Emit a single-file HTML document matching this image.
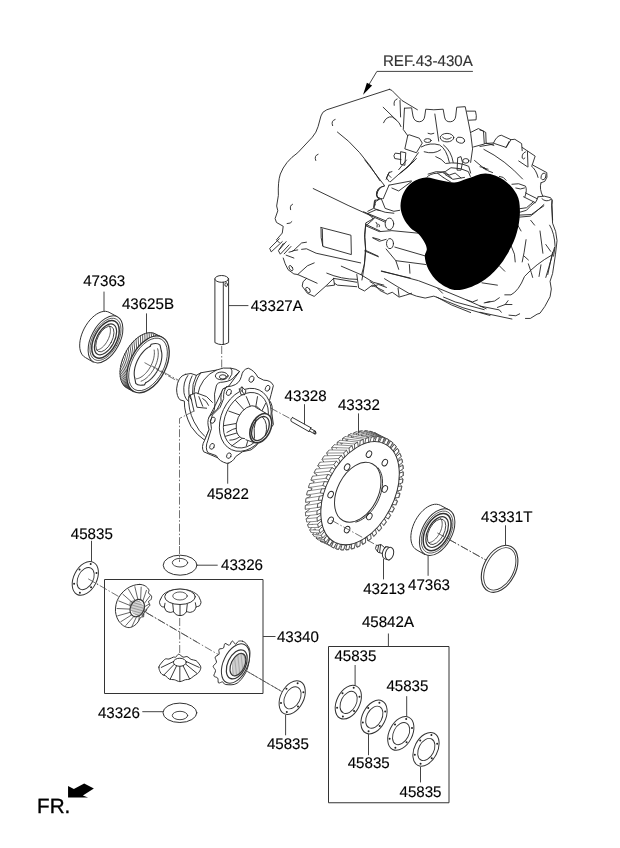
<!DOCTYPE html>
<html>
<head>
<meta charset="utf-8">
<title>Differential parts diagram</title>
<style>
html,body{margin:0;padding:0;background:#fff;}
body{width:620px;height:848px;overflow:hidden;font-family:"Liberation Sans",sans-serif;}
svg{display:block;will-change:transform;}
text{font-family:"Liberation Sans",sans-serif;fill:#000;stroke:#000;stroke-width:0.15px;text-rendering:geometricPrecision;}
.l{font-size:15px;}
.s{fill:none;stroke:#333;stroke-width:1;stroke-linecap:round;stroke-linejoin:round;}
.t{fill:none;stroke:#222;stroke-width:0.9;stroke-linecap:round;stroke-linejoin:round;}
.w{fill:#fff;stroke:#333;stroke-width:1;stroke-linejoin:round;}
.d{fill:none;stroke:#444;stroke-width:0.75;stroke-dasharray:8 2 1.5 2;stroke-linecap:butt;}
.b{fill:#000;stroke:none;}
g.z *{vector-effect:non-scaling-stroke;}
</style>
</head>
<body>
<svg width="620" height="848" viewBox="0 0 620 848">
<rect width="620" height="848" fill="#fff"/>

<!-- LABELS -->
<g id="labels" style="font-size:15.4px">
<text transform="translate(382.9,66.1) scale(0.982,1)" style="fill:#333;stroke:#333">REF.43-430A</text>
<text transform="translate(83.2,286.4) scale(0.982,1)">47363</text>
<text transform="translate(121.9,308.6) scale(0.982,1)">43625B</text>
<text transform="translate(250.7,311.1) scale(0.982,1)">43327A</text>
<text transform="translate(284.6,400.6) scale(0.982,1)">43328</text>
<text transform="translate(337.9,409.9) scale(0.982,1)">43332</text>
<text transform="translate(206.9,498.9) scale(0.982,1)">45822</text>
<text transform="translate(70.8,538.5) scale(0.982,1)">45835</text>
<text transform="translate(221.0,570.1) scale(0.982,1)">43326</text>
<text transform="translate(276.9,641.6) scale(0.982,1)">43340</text>
<text transform="translate(97.9,717.7) scale(0.982,1)">43326</text>
<text transform="translate(266.9,748.9) scale(0.982,1)">45835</text>
<text transform="translate(363.2,594.4) scale(0.982,1)">43213</text>
<text transform="translate(408.0,589.5) scale(0.982,1)">47363</text>
<text transform="translate(481.1,521.6) scale(0.982,1)">43331T</text>
<text transform="translate(361.9,627.3) scale(0.982,1)">45842A</text>
<text transform="translate(334.4,660.9) scale(0.982,1)">45835</text>
<text transform="translate(386.4,690.6) scale(0.982,1)">45835</text>
<text transform="translate(347.7,768.1) scale(0.982,1)">45835</text>
<text transform="translate(399.5,796.7) scale(0.982,1)">45835</text>
<text transform="translate(37.1,813.4) scale(1.0,1)" style="font-size:20.6px;stroke-width:0.35px">FR.</text>
</g>

<!-- BOXES -->
<g id="boxes" class="s" style="stroke-linejoin:miter;stroke-linecap:butt">
<path d="M104.5,579.5 H263 V693.5 H104.5 Z"/>
<path d="M328.5,646.5 H449 V802.75 H328.5 Z"/>
</g>

<!-- LEADERS -->
<g id="leaders" class="s">
</g>

<!-- HOUSING -->
<g id="housing">
<!-- upper-left region: origin 260,85 k=5.1667 -->
<g class="z t" transform="translate(260,85) scale(0.19355)">
<path d="M670,22 L345,128 Q320,138 315,160 L300,215 Q292,245 270,270 L195,350 Q130,395 105,460 Q92,500 95,570 L86,625 L92,650 L78,690 L85,710 L120,730 L115,765 L85,800 L100,815"/>
<path d="M388,178 Q365,185 375,210"/>
<path d="M300,358 Q278,365 288,390"/>
<path d="M400,243 Q520,330 620,495"/>
<path d="M275,535 L455,622 L645,708"/>
<path d="M535,655 L650,702"/>
<path d="M620,530 Q595,550 605,580 L620,585"/>
<path d="M610,595 Q590,600 595,620"/>
</g>
<!-- lower-left region: origin 260,200 k=5.1667 -->
<g class="z t" transform="translate(260,200) scale(0.19355)">
<path d="M168,22 Q152,28 158,50"/>
<path d="M140,122 Q160,122 165,112"/>
<path d="M100,200 L50,250 L58,268 L115,215"/>
<path d="M135,215 L95,262 L105,280 L150,232"/>
<path d="M160,240 L125,278"/>
<path d="M120,225 L100,255"/>
<path d="M150,270 Q175,268 185,250 L215,222 L240,218"/>
<path d="M170,262 L195,258"/>
<path d="M135,285 L175,300"/>
<path d="M215,255 L240,252 L290,275 L520,325"/>
<path d="M315,142 L470,182 L472,282 L325,240 Q312,200 315,142"/>
<path d="M322,150 L324,236"/>
<path d="M120,300 Q128,330 145,360 L175,382 L195,385 L240,405"/>
<ellipse cx="160" cy="352" rx="8" ry="15" transform="rotate(-30 160 352)"/>
<path d="M195,385 L245,340 L280,325"/>
<path d="M240,405 Q215,420 218,445 L245,482 L280,498 L345,440 L380,405"/>
<ellipse cx="248" cy="465" rx="9" ry="16" transform="rotate(-35 248 465)"/>
<path d="M240,405 L295,430"/>
<path d="M345,378 Q420,410 500,410"/>
<path d="M420,342 L520,385"/>
<path d="M380,405 L385,440 L345,445"/>
<path d="M385,430 L400,440 L500,448"/>
<path d="M380,405 L500,425"/>
<path d="M500,385 L510,455 L540,470 L580,440 L600,450 L640,470"/>
<path d="M520,385 L585,425 L640,440"/>
<path d="M545,135 L540,180 L545,250 L540,330 L525,385"/>
<path d="M545,135 L585,100 L575,85 L555,70"/>
<path d="M545,125 L620,160"/>
<path d="M545,260 L610,290"/>
<path d="M585,195 L620,205"/>
<path d="M555,70 L600,50 L620,55"/>
<path d="M595,0 L590,40"/>
<path d="M600,115 Q610,125 605,140"/>
</g>
<!-- mid region: origin 360,160 k=5.1667 -->
<g class="z t" transform="translate(360,160) scale(0.19355)">
<path d="M25,0 L125,130"/>
<path d="M125,135 Q85,140 85,180 Q95,205 115,200"/>
<ellipse cx="152" cy="330" rx="22" ry="30"/>
<ellipse cx="155" cy="432" rx="18" ry="26"/>
<path d="M75,300 L30,325 L25,400 L30,470 L20,560 L10,620"/>
<path d="M30,340 L100,370 L165,365 L300,378"/>
<path d="M65,402 L100,420 L135,410"/>
<path d="M180,450 L335,495"/>
<path d="M135,460 L185,520 L200,565"/>
<path d="M185,520 L340,540"/>
<path d="M255,540 L258,585"/>
<path d="M110,575 L260,610"/>
<path d="M25,470 L95,500"/>
<path d="M70,245 L75,210 L110,200 L130,250 L175,265 L205,260"/>
<path d="M40,265 L70,250 L130,270 L175,275"/>
<path d="M150,130 L265,108"/>
<path d="M150,130 L120,200"/>
<path d="M165,145 L200,160 L265,112"/>
<path d="M135,100 L150,65 L165,60"/>
<path d="M145,75 L160,90"/>
<path d="M205,70 L280,5"/>
<path d="M200,50 L240,0"/>
<path d="M345,90 Q360,70 400,68 L430,90"/>
<path d="M400,68 L440,60 L470,40 L520,45 L560,60 L570,85"/>
<path d="M430,90 L470,115"/>
<path d="M440,75 L480,100 L540,90"/>
<path d="M95,330 Q105,335 100,345"/>
</g>
<!-- top-mid region (shift mechanism): origin 370,85 k=5.1667 -->
<g class="z t" transform="translate(370,85) scale(0.19355)">
<path d="M100,22 Q115,25 125,40 L165,80 L245,128"/>
<path d="M140,72 Q120,78 125,105"/>
<path d="M68,115 L150,195 L160,215"/>
<path d="M70,195 Q85,160 115,165 L135,180"/>
<path d="M155,80 L158,165"/>
<path d="M178,120 L215,118 L222,160 Q228,190 255,190 Q280,188 283,160 L288,125 L330,128 L378,125 L385,165 Q390,192 415,190 Q440,188 443,160 L448,115 L492,112 L500,150 L520,250 L530,330 L520,400"/>
<path d="M178,120 L172,230 L195,262"/>
<path d="M335,150 L355,290"/>
<path d="M500,135 L545,135 Q552,160 548,180 L510,182"/>
<path d="M520,245 L560,225 L598,245 L600,300 L640,312"/>
<path d="M535,320 L590,305"/>
<ellipse cx="398" cy="272" rx="35" ry="22"/>
<path d="M375,270 Q395,290 420,272"/>
<ellipse cx="467" cy="285" rx="22" ry="15" transform="rotate(15 467 285)"/>
<ellipse cx="298" cy="287" rx="18" ry="10"/>
<path d="M300,250 Q315,258 330,250"/>
<path d="M195,262 L180,330 L240,350 L270,300 L255,275 L205,258 Z"/>
<path d="M155,355 L130,352 Q118,365 128,380 L160,385"/>
<path d="M160,345 L185,350 L180,415 L160,410 Z"/>
<path d="M265,320 Q310,295 360,310 Q395,330 410,400"/>
<path d="M280,345 Q330,360 365,335"/>
<path d="M380,310 Q420,340 430,400"/>
<path d="M250,350 L200,420 L150,460 L105,500"/>
<path d="M240,380 L165,450"/>
<path d="M455,375 L470,370 L478,400 L470,440 L452,440 Z"/>
<ellipse cx="495" cy="392" rx="16" ry="12"/>
<path d="M395,405 Q450,395 510,420 L520,455"/>
<path d="M340,370 Q370,380 390,405"/>
<path d="M300,460 Q340,440 390,450 L420,480"/>
<path d="M380,455 L410,465 L440,455 L470,480"/>
<path d="M100,450 L85,480 L100,500"/>
<path d="M75,520 Q40,530 35,570 L45,590"/>
<path d="M540,390 L600,440"/>
<path d="M585,430 L610,435"/>
</g>
<!-- top-right region: origin 480,100 k=5.1667 -->
<g class="z t" transform="translate(480,100) scale(0.19355)">
<path d="M0,155 L18,160 L22,225 L70,222"/>
<path d="M70,222 Q85,185 110,182 L160,205 L135,245 L75,225"/>
<path d="M160,205 L180,203 L215,225 L218,262"/>
<path d="M135,245 L150,215"/>
<path d="M0,240 L70,228"/>
<path d="M218,245 L285,290 L270,335"/>
<path d="M235,268 Q215,275 218,300 Q225,310 232,300"/>
<path d="M245,265 L248,345"/>
<path d="M200,315 L245,345"/>
<path d="M270,335 L345,375 Q352,400 335,420 L315,428"/>
<ellipse cx="328" cy="395" rx="12" ry="18" transform="rotate(20 328 395)"/>
<path d="M265,340 Q290,360 300,400"/>
<path d="M20,255 Q130,310 220,408"/>
<path d="M315,428 Q305,460 325,498"/>
<path d="M300,500 Q330,490 365,505 Q378,515 372,540 L375,620"/>
<path d="M320,510 Q340,530 365,515"/>
<path d="M165,435 Q200,425 235,445 Q245,465 232,500"/>
<path d="M185,455 Q210,465 230,455"/>
<path d="M235,480 L295,510"/>
<path d="M225,500 L285,530"/>
<path d="M300,500 L290,525 Q260,545 240,570 L205,580"/>
<path d="M330,540 L280,585 L260,600 L205,605"/>
<path d="M0,345 L25,350 L40,365 L65,375"/>
<path d="M100,395 L120,400 L135,415"/>
</g>
<!-- bottom-right region: origin 480,200 k=5.1667 -->
<g class="z t" transform="translate(480,200) scale(0.19355)">
<path d="M372,0 L370,30 L375,120 Q395,160 398,210 L390,280 L375,380 L362,420 Q375,460 362,500 L335,550 L310,585 L295,590 L260,612 L235,612"/>
<path d="M360,130 Q385,170 388,240 L380,290"/>
<path d="M385,245 L355,350 L340,400"/>
<path d="M375,270 L350,385"/>
<path d="M370,285 Q290,330 230,395 Q200,470 160,490 L128,490"/>
<path d="M340,230 L365,265"/>
<path d="M310,160 L325,275"/>
<path d="M262,105 L282,130"/>
<path d="M195,130 L212,160"/>
<path d="M238,205 L228,270 L218,320"/>
<path d="M228,290 L250,310"/>
<path d="M160,235 L178,280 L182,320"/>
<path d="M250,330 L265,375 L272,400"/>
<path d="M315,335 L305,395"/>
<path d="M100,340 L128,368"/>
<path d="M10,428 L90,440"/>
<path d="M30,530 L75,522 L100,505"/>
<path d="M90,555 L130,540 L165,540"/>
<path d="M145,520 L130,540"/>
<path d="M0,548 L100,568 L110,580"/>
<path d="M0,580 L165,615"/>
<path d="M150,595 L185,598 L205,588"/>
<path d="M205,45 L240,40 L275,10"/>
<path d="M205,78 L265,75 L330,30"/>
</g>
<!-- bottom-mid region: origin 370,240 k=5.1667 -->
<g class="z t" transform="translate(370,240) scale(0.19355)">
<path d="M60,160 L250,210 L350,248 L500,310 L600,355"/>
<path d="M75,200 L140,240 L200,275 L240,290 L285,300 L330,290 L400,318 L480,350 L620,390"/>
<path d="M0,215 L25,230 L50,260 L90,280 L115,270 L150,295 L185,285 L215,275"/>
<path d="M10,240 L45,230 L85,245"/>
<path d="M145,250 L150,290"/>
<path d="M345,295 L420,335 L520,375"/>
<path d="M380,295 L440,320 L590,360"/>
<path d="M350,250 L375,275"/>
<path d="M500,310 L530,320 L555,310"/>
<path d="M590,325 L620,318"/>
</g>
<!-- black blob -->
<path class="b" d="M425.9,177.5C430.3,177.1 434.1,179.1 438.9,179.9C443.7,180.7 449.7,182.7 454.5,182.5C459.3,182.3 462.3,180.1 467.5,178.6C472.7,177.1 479.6,173.2 485.6,173.4C491.7,173.6 498.6,176.4 503.8,179.9C509.0,183.4 514.0,189.2 516.7,194.2C519.4,199.2 519.7,204.1 519.9,209.7C520.1,215.3 519.4,221.8 518.0,227.9C516.6,234.0 514.8,239.5 511.6,246.0C508.4,252.5 503.8,260.7 498.6,266.8C493.4,272.9 487.3,278.5 480.4,282.4C473.5,286.3 464.0,290.1 457.1,290.1C450.2,290.1 443.7,285.8 438.9,282.4C434.1,278.9 430.9,273.7 428.5,269.4C426.1,265.1 425.1,260.2 424.8,256.8C424.5,253.4 427.0,251.6 426.8,249.0C426.6,246.4 425.4,243.9 423.9,241.3C422.4,238.7 420.3,235.8 418.0,233.5C415.7,231.2 412.7,230.3 410.3,227.7C407.9,225.1 405.1,221.6 403.5,218.0C401.9,214.4 400.5,210.2 400.5,206.0C400.5,201.8 401.5,196.8 403.5,192.9C405.5,189.0 408.6,184.9 412.3,182.3C416.0,179.7 421.5,177.9 425.9,177.5Z"/>
<!-- REF leader + arrow -->
<path class="s" style="stroke:#444" d="M472.5,71.4 H376.9 L369,84.5"/>
<path class="b" d="M363.1,94.8 L366.9,82.7 L372.1,85.4 Z"/>
</g>


<g id="bearing1" class="s">
<path class="w" d="M85.10,357.32 L83.55,356.25 L82.24,354.81 L81.18,353.03 L80.39,350.94 L79.89,348.58 L79.68,345.97 L79.77,343.18 L80.15,340.24 L80.82,337.21 L81.78,334.14 L82.99,331.08 L84.44,328.09 L86.11,325.21 L87.97,322.49 L89.99,319.98 L92.12,317.73 L94.34,315.77 L96.61,314.13 L98.88,312.85 L101.12,311.94 L103.30,311.43 L105.37,311.31 L107.29,311.60 L109.04,312.28 L117.47,316.84 L93.53,361.88 Z"/>
<ellipse cx="105.50" cy="339.36" rx="14.30" ry="25.50" transform="rotate(28 105.50 339.36)" class="w"/>
<ellipse cx="105.50" cy="339.36" rx="12.73" ry="22.95" transform="rotate(28 105.50 339.36)" style="stroke-width:0.7"/>
<ellipse cx="105.50" cy="339.36" rx="11.15" ry="20.40" transform="rotate(28 105.50 339.36)" style="stroke-width:1.5"/>
<ellipse cx="105.50" cy="339.36" rx="8.87" ry="16.83" transform="rotate(28 105.50 339.36)" style="stroke-width:1.2"/>
<ellipse cx="104.90" cy="339.06" rx="7.15" ry="14.03" transform="rotate(28 104.90 339.06)" style="stroke-width:0.8"/>
<path style="stroke-width:0.8" d="M108.88,325.55 L109.40,326.24 L109.82,327.06 L110.13,328.02 L110.33,329.09 L110.42,330.26 L110.39,331.52 L110.24,332.85 L109.98,334.24 L109.61,335.66 L109.14,337.10 L108.56,338.55 L107.89,339.97 L107.14,341.36 L106.32,342.70 L105.43,343.97 L104.49,345.15 L103.51,346.23 L102.50,347.19 L101.47,348.03 L100.45,348.72 L99.43,349.28 L98.44,349.67 L97.48,349.91 L96.57,349.99"/>
</g>
<g id="ring" class="s">
<path class="w" d="M127.07,388.14 L125.13,386.84 L123.46,385.09 L122.09,382.92 L121.05,380.39 L120.36,377.52 L120.02,374.37 L120.04,370.99 L120.43,367.44 L121.17,363.78 L122.26,360.07 L123.67,356.38 L125.38,352.76 L127.36,349.29 L129.57,346.02 L131.99,343.00 L134.56,340.29 L137.25,337.94 L140.00,335.98 L142.78,334.45 L145.52,333.38 L148.20,332.77 L150.75,332.65 L153.14,333.01 L155.33,333.86 L162.18,337.26 L133.92,391.54 Z"/>
<path style="stroke-width:0.8;stroke:#333" d="M124.54,386.30 L136.26,392.42 M123.26,384.82 L134.48,391.81 M122.17,383.08 L132.85,390.90 M121.30,381.10 L131.39,389.70 M120.64,378.90 L130.11,388.22 M120.20,376.50 L129.02,386.48 M120.00,373.93 L128.15,384.50 M120.03,371.22 L127.49,382.30 M120.29,368.40 L127.05,379.90 M120.78,365.49 L126.85,377.33 M121.50,362.54 L126.88,374.62 M122.43,359.57 L127.14,371.80 M123.56,356.62 L127.63,368.89 M124.89,353.71 L128.35,365.94 M126.40,350.89 L129.28,362.97 M128.07,348.17 L130.41,360.02 M129.88,345.60 L131.74,357.11 M131.82,343.19 L133.25,354.29 M133.86,340.98 L134.92,351.57 M135.98,338.99 L136.73,349.00 M138.16,337.24 L138.67,346.59 M140.37,335.75 L140.71,344.38 M142.59,334.54 L142.83,342.39 M144.80,333.62 L145.01,340.64 M146.96,332.99 L147.22,339.15 M149.07,332.68 L149.44,337.94 M151.08,332.67 L151.65,337.02 M152.99,332.98 L153.81,336.39 M154.77,333.59 L155.92,336.08 M156.40,334.50 L157.93,336.07 M157.86,335.70 L159.84,336.38 M159.14,337.18 L161.62,336.99 M160.23,338.92 L163.25,337.90 M161.10,340.90 L164.71,339.10 M161.76,343.10 L165.99,340.58 M162.20,345.50 L167.08,342.32"/>
<ellipse cx="148.05" cy="364.40" rx="17.84" ry="30.60" transform="rotate(27.5 148.05 364.40)" class="w" style="stroke-width:1.3"/>
<ellipse cx="148.05" cy="364.40" rx="16.06" ry="28.46" transform="rotate(27.5 148.05 364.40)" style="stroke-width:0.8"/>
<path style="stroke-width:1.1" d="M161.36,351.01 L161.63,352.20 L161.81,353.48 L161.89,354.84 L161.88,356.26 L161.76,357.74 L161.56,359.26 L161.26,360.82 L160.86,362.41 L160.38,364.01 L159.81,365.61 L159.16,367.21 L158.43,368.78 L157.63,370.32 L156.76,371.83 L155.83,373.28 L154.84,374.67 L153.81,375.98 L152.74,377.22 L151.64,378.36 L150.51,379.41 L149.36,380.36 L148.20,381.19 L147.05,381.90 L145.90,382.50"/>
<path style="stroke-width:1.1" d="M134.74,377.79 L134.47,376.60 L134.29,375.32 L134.21,373.96 L134.22,372.54 L134.34,371.06 L134.54,369.54 L134.84,367.98 L135.24,366.39 L135.72,364.79 L136.29,363.19 L136.94,361.59 L137.67,360.02 L138.47,358.48 L139.34,356.97 L140.27,355.52 L141.26,354.13 L142.29,352.82 L143.36,351.58 L144.46,350.44 L145.59,349.39 L146.74,348.44 L147.90,347.61 L149.05,346.90 L150.20,346.30"/>
<path style="stroke-width:1.1" d="M150.20,346.30 L151.20,344.16 Q157.48,342.36 160.04,345.09 L161.36,351.01"/>
<path style="stroke-width:1.1" d="M145.90,382.50 L144.38,384.84 Q137.95,386.25 135.74,383.40 L134.74,377.79"/>
<path style="stroke-width:0.8" d="M157.61,348.74 L157.94,349.97 L158.16,351.30 L158.28,352.71 L158.28,354.21 L158.18,355.77 L157.97,357.38 L157.65,359.04 L157.23,360.72 L156.71,362.42 L156.09,364.12 L155.38,365.80 L154.59,367.47 L153.71,369.09 L152.76,370.66 L151.75,372.17 L150.68,373.61 L149.56,374.96 L148.40,376.21 L147.20,377.35 L145.99,378.38 L144.77,379.28 L143.54,380.05 L142.32,380.69 L141.11,381.18"/>
<path style="stroke-width:0.8" d="M154.15,350.03 L154.32,351.31 L154.39,352.68 L154.35,354.12 L154.20,355.61 L153.95,357.16 L153.61,358.73 L153.16,360.33 L152.61,361.93 L151.98,363.53 L151.26,365.10 L150.46,366.65 L149.59,368.15 L148.65,369.59 L147.66,370.97 L146.61,372.26 L145.53,373.46 L144.41,374.56 L143.27,375.55 L142.12,376.42 L140.96,377.17 L139.81,377.78 L138.67,378.26 L137.56,378.60 L136.48,378.79"/>
</g>
<!-- PIN 43327A -->
<g id="pin" class="s">
<path class="w" d="M214.9,279 L214.9,342.6 Q221.7,346.6 228.6,342.6 L228.6,279 Z"/>
<ellipse class="w" cx="221.7" cy="278.9" rx="6.8" ry="3.4"/>
<path class="t" d="M223.3,282.3 L223.3,344.3"/>
<ellipse class="t" cx="226.2" cy="284.6" rx="1.3" ry="1.9"/>
<path class="d" d="M221.7,346 L221.7,375"/>
</g>
<!-- DIFF CASE 45822 : origin 165,355 k=5.1667 -->
<g id="case" class="z s" transform="translate(165,355) scale(0.19355)">
<!-- trunnion -->
<path class="w" d="M105,100 Q135,88 162,105 L185,92 L265,78 Q300,62 340,68 Q370,72 385,85 L330,160 L300,175 L260,260 L228,320 L228,385 L205,440 Q165,415 135,370 Q98,300 100,238 L78,232 Q60,215 60,175 Q65,110 105,100 Z"/>
<path class="t" d="M118,106 Q92,140 98,195 Q104,228 120,238"/>
<path class="t" d="M140,108 Q118,150 124,205 Q128,225 138,232"/>
<path class="t" d="M162,105 Q138,150 142,200"/>
<!-- body details -->
<ellipse cx="293" cy="108" rx="33" ry="20" class="w"/>
<ellipse cx="299" cy="113" rx="18" ry="11" class="t"/>
<path class="t" d="M185,92 Q152,135 150,195"/>
<path class="t" d="M265,78 Q225,95 200,130 Q175,165 170,200"/>
<path class="t" d="M125,210 L160,195 L215,215 L245,245"/>
<path class="t" d="M150,200 L165,270 L215,275"/>
<path class="t" d="M175,215 L195,265"/>
<path class="t" d="M195,225 Q215,235 225,260"/>
<path class="t" d="M130,205 L150,290"/>
<path class="t" d="M122,215 Q118,280 150,345 Q175,395 205,420"/>
<path class="t" d="M385,85 L360,110 Q345,135 300,140 Q270,140 265,160 Q250,200 258,250 Q262,285 240,310"/>
<path class="t" d="M340,68 Q350,80 345,100 L330,125"/>
<!-- flange back -->
<path class="w" d="M300,175 Q285,200 290,240 L270,280 L228,320 Q215,345 228,385 L205,440 Q185,475 200,500 L235,515 L270,530 L330,560 L400,400 L350,170 Z"/>
<!-- flange front -->
<path class="w" d="M318,165 L345,160 Q385,150 395,110 Q400,75 430,68 Q462,80 480,115 L510,130 Q548,130 560,158 L548,205 L540,235 Q560,262 552,300 L560,360 L470,470 L445,490 L400,500 L365,525 Q350,555 320,560 Q280,550 265,520 L222,505 Q205,480 222,440 L240,380 Q228,340 245,310 L285,270 L303,225 Q300,185 318,165 Z"/>
<!-- bolt holes -->
<ellipse cx="447" cy="125" rx="12" ry="17" transform="rotate(25 447 125)" class="t"/>
<ellipse cx="530" cy="172" rx="11" ry="16" transform="rotate(25 530 172)" class="t"/>
<ellipse cx="330" cy="193" rx="12" ry="17" transform="rotate(25 330 193)" class="t"/>
<ellipse cx="247" cy="337" rx="11" ry="17" transform="rotate(25 247 337)" class="t"/>
<ellipse cx="243" cy="472" rx="11" ry="16" transform="rotate(25 243 472)" class="t"/>
<ellipse cx="330" cy="520" rx="11" ry="15" transform="rotate(25 330 520)" class="t"/>
<!-- front ring -->
<ellipse cx="415" cy="335" rx="125" ry="170" transform="rotate(25 415 335)"/>
<ellipse cx="418" cy="337" rx="108" ry="150" transform="rotate(25 418 337)" class="t"/>
<!-- spokes -->
<path class="t" d="M305,365 L378,352 M312,420 L388,398 M345,470 L402,428 M420,470 L430,435 M330,290 L392,312 M365,235 L410,285 M420,215 L442,268 M478,215 L470,262 M520,250 L500,290 M320,400 Q350,380 380,375 M335,440 Q370,440 395,415"/>
<!-- small bolt -->
<path class="w" d="M385,175 L398,165 L418,185 L412,205 L395,205 Z"/>
<path class="t" d="M398,165 L400,190 L412,205 M385,175 L400,190"/>
<!-- hub collar -->
<ellipse class="w" cx="435" cy="348" rx="62" ry="90" transform="rotate(25 435 348)"/>
<path class="w" d="M465,268 L525,302 L548,370 L520,430 L460,455 L410,440 Z" style="stroke:none"/>
<path d="M468,270 L520,300 M418,438 L458,452"/>
<ellipse class="w" cx="495" cy="378" rx="50" ry="80" transform="rotate(25 495 378)" style="stroke-width:1.6"/>
<ellipse cx="493" cy="380" rx="40" ry="66" transform="rotate(25 493 380)" style="stroke-width:1.3"/>
<path class="t" d="M470,330 Q455,380 462,430"/>
<path class="t" d="M505,322 Q535,350 520,415"/>
</g>
<g class="s">
<path class="d" d="M270.5,408 L291,419"/>
<path class="d" d="M194,411 L179.5,418.5 L179.5,545"/>
<path class="d" d="M152,366 L178,380"/>
</g>

<g id="pin2" class="s">
<path class="w" d="M292.6,417.6 L311.0,427.8 L310.6,428.6 L315.4,431.2 Q316.4,433.2 314.4,433.8 L309.4,431.0 L309.0,431.6 L291.2,421.4 Q290.0,418.4 292.6,417.6 Z"/>
<path class="t" d="M311.0,427.8 L309.0,431.6"/>
<ellipse class="t" cx="314.9" cy="432.5" rx="0.9" ry="1.5" transform="rotate(-30 314.9 432.5)"/>
</g>
<g id="gear" class="s" style="stroke-width:0.8">
<path class="w" style="stroke-width:0.8" d="M382.76,493.40 L385.94,494.66 L384.34,498.61 L380.81,498.19 L379.98,500.03 L382.83,501.94 L380.90,505.77 L377.65,504.67 L376.67,506.44 L379.13,508.96 L376.92,512.60 L373.98,510.86 L372.87,512.52 L374.91,515.61 L372.44,519.01 L369.88,516.64 L368.66,518.18 L370.24,521.78 L367.56,524.88 L365.40,521.93 L364.10,523.30 L365.19,527.37 L362.35,530.11 L360.64,526.62 L359.27,527.82 L359.86,532.27 L356.90,534.60 L355.67,530.64 L354.26,531.64 L354.33,536.40 L351.30,538.29 L350.58,533.93 L349.15,534.71 L348.71,539.70 L345.66,541.11 L345.45,536.42 L344.02,536.96 L343.07,542.10 L340.06,543.01 L340.37,538.07 L338.97,538.37 L337.53,543.56 L334.61,543.95 L335.43,538.85 L334.09,538.91 L332.18,544.07 L329.40,543.94 L330.72,538.75 L329.45,538.57 L327.10,543.60 L324.51,542.95 L326.30,537.78 L325.13,537.35 L322.39,542.18 L320.03,541.01 L322.27,535.94 L321.22,535.28 L318.13,539.81 L316.04,538.16 L318.68,533.27 L317.77,532.38 L314.38,536.55 L312.60,534.44 L315.60,529.82 L314.84,528.72 L311.22,532.45 L309.78,529.91 L313.09,525.65 L312.49,524.36 L308.70,527.58 L307.61,524.66 L311.18,520.81 L310.76,519.36 L306.85,522.02 L306.15,518.77 L309.91,515.41 L309.67,513.81 L305.72,515.87 L305.41,512.34 L309.29,509.53 L309.24,507.81 L305.31,509.24 L305.40,505.49 L309.35,503.27 L309.49,501.46 L305.65,502.23 L306.14,498.33 L310.08,496.74 L310.40,494.88 L306.72,494.96 L307.59,490.98 L311.46,490.05 L311.96,488.16 L308.50,487.57 L309.75,483.57 L313.47,483.31 L314.15,481.43 L310.97,480.17 L312.57,476.22 L316.09,476.65 L316.92,474.81 L314.07,472.90 L316.00,469.07 L319.26,470.17 L320.23,468.40 L317.77,465.88 L319.99,462.23 L322.92,463.98 L324.03,462.32 L321.99,459.23 L324.46,455.83 L327.03,458.20 L328.25,456.66 L326.66,453.05 L329.35,449.96 L331.50,452.91 L332.80,451.53 L331.71,447.47 L334.56,444.73 L336.26,448.22 L337.63,447.02 L337.04,442.57 L340.01,440.24 L341.23,444.19 L342.65,443.20 L342.57,438.44 L345.60,436.55 L346.32,440.91 L347.76,440.13 L348.20,435.14 L351.24,433.73 L351.45,438.42 L352.88,437.87 L353.83,432.74 L356.84,431.83 L356.53,436.77 L357.93,436.46 L359.37,431.28 L362.29,430.88 L361.47,435.99 L362.81,435.93 L364.72,430.77 L367.50,430.90 L366.19,436.08 L367.46,436.27 L369.80,431.24 L372.39,431.89 L370.60,437.06 L371.77,437.49 L374.51,432.66 L376.87,433.82 L374.63,438.90 L375.69,439.56 L378.77,435.03 L380.86,436.68 L378.22,441.56 L379.14,442.45 L382.52,438.29 L384.30,440.40 L381.30,445.02 L382.06,446.11 L385.68,442.39 L387.13,444.93 L383.81,449.19 L384.41,450.48 L388.21,447.26 L389.29,450.18 L385.72,454.02 L386.15,455.48 L390.05,452.81 L390.75,456.07 L387.00,459.43 L387.24,461.03 L391.19,458.96 L391.49,462.50 L387.61,465.31 L387.66,467.03 L391.59,465.60 L391.50,469.35 L387.55,471.57 L387.42,473.37 L391.25,472.61 L390.77,476.51 L386.83,478.10 L386.50,479.96 L390.18,479.88 L389.31,483.86 L385.44,484.79 L384.94,486.68 L388.40,487.27 L387.15,491.27 L383.43,491.52 Z"/>
<path class="w" style="stroke-width:0.6;stroke:#444" d="M394.21,508.22 L385.94,494.66 L384.34,498.61 L392.27,512.04 Z"/>
<path class="w" style="stroke-width:0.6;stroke:#444" d="M390.48,515.22 L382.83,501.94 L380.90,505.77 L388.24,518.85 Z"/>
<path class="w" style="stroke-width:0.6;stroke:#444" d="M386.23,521.85 L379.13,508.96 L376.92,512.60 L383.74,525.23 Z"/>
<path class="w" style="stroke-width:0.6;stroke:#444" d="M381.53,527.98 L374.91,515.61 L372.44,519.01 L378.83,531.06 Z"/>
<path class="w" style="stroke-width:0.6;stroke:#444" d="M376.46,533.52 L370.24,521.78 L367.56,524.88 L373.60,536.24 Z"/>
<path class="w" style="stroke-width:0.6;stroke:#444" d="M371.11,538.38 L365.19,527.37 L362.35,530.11 L368.14,540.68 Z"/>
<path class="w" style="stroke-width:0.6;stroke:#444" d="M365.57,542.45 L359.86,532.27 L356.90,534.60 L362.54,544.31 Z"/>
<path class="w" style="stroke-width:0.6;stroke:#444" d="M359.94,545.69 L354.33,536.40 L351.30,538.29 L356.90,547.07 Z"/>
<path class="w" style="stroke-width:0.6;stroke:#444" d="M354.31,548.03 L348.71,539.70 L345.66,541.11 L351.31,548.91 Z"/>
<path class="w" style="stroke-width:0.6;stroke:#444" d="M348.78,549.43 L343.07,542.10 L340.06,543.01 L345.87,549.79 Z"/>
<path class="w" style="stroke-width:0.6;stroke:#444" d="M343.44,549.87 L337.53,543.56 L334.61,543.95 L340.67,549.71 Z"/>
<path class="w" style="stroke-width:0.6;stroke:#444" d="M338.39,549.34 L332.18,544.07 L329.40,543.94 L335.81,548.66 Z"/>
<path class="w" style="stroke-width:0.6;stroke:#444" d="M333.71,547.85 L327.10,543.60 L324.51,542.95 L331.36,546.66 Z"/>
<path class="w" style="stroke-width:0.6;stroke:#444" d="M329.48,545.43 L322.39,542.18 L320.03,541.01 L327.40,543.74 Z"/>
<path class="w" style="stroke-width:0.6;stroke:#444" d="M325.77,542.11 L318.13,539.81 L316.04,538.16 L324.00,539.97 Z"/>
<path class="w" style="stroke-width:0.6;stroke:#444" d="M322.65,537.96 L314.38,536.55 L312.60,534.44 L321.22,535.39 Z"/>
<path class="w" style="stroke-width:0.6;stroke:#444" d="M320.16,533.04 L311.22,532.45 L309.78,529.91 L319.11,530.09 Z"/>
<path class="w" style="stroke-width:0.6;stroke:#444" d="M318.37,527.44 L308.70,527.58 L307.61,524.66 L317.69,524.16 Z"/>
<path class="w" style="stroke-width:0.6;stroke:#444" d="M317.28,521.25 L306.85,522.02 L306.15,518.77 L317.00,517.70 Z"/>
<path class="w" style="stroke-width:0.6;stroke:#444" d="M316.93,514.59 L305.72,515.87 L305.41,512.34 L317.04,510.83 Z"/>
<path class="w" style="stroke-width:0.6;stroke:#444" d="M317.31,507.55 L305.31,509.24 L305.40,505.49 L317.82,503.65 Z"/>
<path class="w" style="stroke-width:0.6;stroke:#444" d="M318.43,500.28 L305.65,502.23 L306.14,498.33 L319.33,496.29 Z"/>
<path class="w" style="stroke-width:0.6;stroke:#444" d="M320.26,492.88 L306.72,494.96 L307.59,490.98 L321.53,488.88 Z"/>
<path class="w" style="stroke-width:0.6;stroke:#444" d="M322.77,485.49 L308.50,487.57 L309.75,483.57 L324.39,481.55 Z"/>
<path class="w" style="stroke-width:0.6;stroke:#444" d="M325.91,478.23 L310.97,480.17 L312.57,476.22 L327.86,474.41 Z"/>
<path class="w" style="stroke-width:0.6;stroke:#444" d="M329.65,471.23 L314.07,472.90 L316.00,469.07 L331.88,467.60 Z"/>
<path class="w" style="stroke-width:0.6;stroke:#444" d="M333.90,464.60 L317.77,465.88 L319.99,462.23 L336.39,461.22 Z"/>
<path class="w" style="stroke-width:0.6;stroke:#444" d="M338.60,458.47 L321.99,459.23 L324.46,455.83 L341.30,455.40 Z"/>
<path class="w" style="stroke-width:0.6;stroke:#444" d="M343.67,452.93 L326.66,453.05 L329.35,449.96 L346.53,450.22 Z"/>
<path class="w" style="stroke-width:0.6;stroke:#444" d="M349.02,448.07 L331.71,447.47 L334.56,444.73 L351.99,445.77 Z"/>
<path class="w" style="stroke-width:0.6;stroke:#444" d="M354.55,444.00 L337.04,442.57 L340.01,440.24 L357.59,442.14 Z"/>
<path class="w" style="stroke-width:0.6;stroke:#444" d="M360.19,440.76 L342.57,438.44 L345.60,436.55 L363.23,439.38 Z"/>
<path class="w" style="stroke-width:0.6;stroke:#444" d="M365.81,438.42 L348.20,435.14 L351.24,433.73 L368.82,437.54 Z"/>
<path class="w" style="stroke-width:0.6;stroke:#444" d="M371.35,437.02 L353.83,432.74 L356.84,431.83 L374.26,436.66 Z"/>
<path class="w" style="stroke-width:0.6;stroke:#444" d="M376.68,436.58 L359.37,431.28 L362.29,430.88 L379.45,436.74 Z"/>
<path class="w" style="stroke-width:0.6;stroke:#444" d="M381.74,437.11 L364.72,430.77 L367.50,430.90 L384.32,437.79 Z"/>
<path class="w" style="stroke-width:0.6;stroke:#444" d="M386.42,438.60 L369.80,431.24 L372.39,431.89 L388.77,439.79 Z"/>
<path class="w" style="stroke-width:0.6;stroke:#444" d="M390.65,441.02 L374.51,432.66 L376.87,433.82 L392.72,442.71 Z"/>
<path class="w" style="stroke-width:0.6;stroke:#444" d="M394.36,444.34 L378.77,435.03 L380.86,436.68 L396.12,446.48 Z"/>
<path class="w" style="stroke-width:0.6;stroke:#444" d="M397.48,448.49 L382.52,438.29 L384.30,440.40 L398.91,451.06 Z"/>
<path class="w" style="stroke-width:0.6;stroke:#444" d="M399.96,453.41 L385.68,442.39 L387.13,444.93 L401.02,456.36 Z"/>
<path class="w" style="stroke-width:0.6;stroke:#444" d="M401.76,459.01 L388.21,447.26 L389.29,450.18 L402.44,462.29 Z"/>
<path class="w" style="stroke-width:0.6;stroke:#444" d="M402.85,465.20 L390.05,452.81 L390.75,456.07 L403.13,468.75 Z"/>
<path class="w" style="stroke-width:0.6;stroke:#444" d="M403.20,471.87 L391.19,458.96 L391.49,462.50 L403.09,475.62 Z"/>
<path class="w" style="stroke-width:0.6;stroke:#444" d="M402.82,478.90 L391.59,465.60 L391.50,469.35 L402.30,482.80 Z"/>
<path class="w" style="stroke-width:0.6;stroke:#444" d="M401.70,486.17 L391.25,472.61 L390.77,476.51 L400.80,490.16 Z"/>
<path class="w" style="stroke-width:0.6;stroke:#444" d="M399.87,493.57 L390.18,479.88 L389.31,483.86 L398.60,497.57 Z"/>
<path class="w" style="stroke-width:0.6;stroke:#444" d="M397.36,500.96 L388.40,487.27 L387.15,491.27 L395.74,504.90 Z"/>
<path class="w" style="stroke-width:0.8" d="M391.39,506.27 L394.21,508.22 L392.27,512.04 L389.03,510.90 L388.04,512.66 L390.48,515.22 L388.24,518.85 L385.33,517.06 L384.22,518.72 L386.23,521.85 L383.74,525.23 L381.20,522.82 L379.98,524.34 L381.53,527.98 L378.83,531.06 L376.71,528.07 L375.40,529.43 L376.46,533.52 L373.60,536.24 L371.93,532.72 L370.55,533.90 L371.11,538.38 L368.14,540.68 L366.95,536.69 L365.53,537.68 L365.57,542.45 L362.54,544.31 L361.85,539.93 L360.42,540.69 L359.94,545.69 L356.90,547.07 L356.72,542.36 L355.29,542.89 L354.31,548.03 L351.31,548.91 L351.65,543.95 L350.25,544.24 L348.78,549.43 L345.87,549.79 L346.72,544.68 L345.38,544.72 L343.44,549.87 L340.67,549.71 L342.03,544.52 L340.76,544.32 L338.39,549.34 L335.81,548.66 L337.63,543.49 L336.47,543.04 L333.71,547.85 L331.36,546.66 L333.63,541.60 L332.58,540.91 L329.48,545.43 L327.40,543.74 L330.07,538.87 L329.17,537.97 L325.77,542.11 L324.00,539.97 L327.03,535.37 L326.28,534.26 L322.65,537.96 L321.22,535.39 L324.56,531.15 L323.97,529.85 L320.16,533.04 L319.11,530.09 L322.69,526.28 L322.28,524.81 L318.37,527.44 L317.69,524.16 L321.46,520.84 L321.23,519.23 L317.28,521.25 L317.00,517.70 L320.89,514.93 L320.85,513.20 L316.93,514.59 L317.04,510.83 L320.99,508.65 L321.14,506.84 L317.31,507.55 L317.82,503.65 L321.76,502.10 L322.09,500.24 L318.43,500.28 L319.33,496.29 L323.19,495.41 L323.70,493.52 L320.26,492.88 L321.53,488.88 L325.24,488.67 L325.93,486.79 L322.77,485.49 L324.39,481.55 L327.90,482.01 L328.74,480.18 L325.91,478.23 L327.86,474.41 L331.10,475.55 L332.09,473.79 L329.65,471.23 L331.88,467.60 L334.80,469.39 L335.91,467.73 L333.90,464.60 L336.39,461.22 L338.93,463.63 L340.15,462.11 L338.60,458.47 L341.30,455.40 L343.42,458.39 L344.73,457.02 L343.67,452.93 L346.53,450.22 L348.20,453.73 L349.57,452.55 L349.02,448.07 L351.99,445.77 L353.18,449.76 L354.60,448.77 L354.55,444.00 L357.59,442.14 L358.28,446.52 L359.71,445.76 L360.19,440.76 L363.23,439.38 L363.40,444.09 L364.83,443.56 L365.81,438.42 L368.82,437.54 L368.48,442.50 L369.87,442.21 L371.35,437.02 L374.26,436.66 L373.40,441.77 L374.75,441.73 L376.68,436.58 L379.45,436.74 L378.10,441.93 L379.37,442.13 L381.74,437.11 L384.32,437.79 L382.49,442.96 L383.66,443.41 L386.42,438.60 L388.77,439.79 L386.50,444.86 L387.54,445.54 L390.65,441.02 L392.72,442.71 L390.06,447.58 L390.96,448.48 L394.36,444.34 L396.12,446.48 L393.10,451.08 L393.85,452.19 L397.48,448.49 L398.91,451.06 L395.57,455.30 L396.16,456.60 L399.96,453.41 L401.02,456.36 L397.44,460.17 L397.85,461.64 L401.76,459.01 L402.44,462.29 L398.67,465.61 L398.90,467.22 L402.85,465.20 L403.13,468.75 L399.24,471.52 L399.28,473.25 L403.20,471.87 L403.09,475.62 L399.14,477.80 L398.99,479.61 L402.82,478.90 L402.30,482.80 L398.37,484.35 L398.03,486.21 L401.70,486.17 L400.80,490.16 L396.94,491.04 L396.43,492.93 L399.87,493.57 L398.60,497.57 L394.89,497.78 L394.20,499.66 L397.36,500.96 L395.74,504.90 L392.23,504.44 Z"/>
<ellipse cx="360.06" cy="493.23" rx="33.87" ry="55.16" transform="rotate(27 360.06 493.23)" class="w" style="stroke-width:1"/>
<ellipse cx="357.74" cy="492.26" rx="20.32" ry="31.94" transform="rotate(27 357.74 492.26)" style="stroke-width:1"/>
<path class="t" d="M378.03,467.76 L379.29,469.48 L380.35,471.42 L381.22,473.57 L381.87,475.90 L382.30,478.40 L382.51,481.03 L382.51,483.78 L382.27,486.62 L381.82,489.52 L381.15,492.45 L380.27,495.38 L379.19,498.29 L377.91,501.15 L376.46,503.92 L374.85,506.60 L373.08,509.13 L371.18,511.52 L369.17,513.72 L367.06,515.72 L364.88,517.50 L362.65,519.04 L360.38,520.33 L358.10,521.36 L355.84,522.11"/>
<ellipse cx="368.97" cy="454.13" rx="2.52" ry="3.48" transform="rotate(27 368.97 454.13)" class="t"/>
<ellipse cx="384.84" cy="462.64" rx="2.52" ry="3.48" transform="rotate(27 384.84 462.64)" class="t"/>
<ellipse cx="384.84" cy="488.97" rx="2.52" ry="3.48" transform="rotate(27 384.84 488.97)" class="t"/>
<ellipse cx="369.35" cy="516.45" rx="2.52" ry="3.48" transform="rotate(27 369.35 516.45)" class="t"/>
<ellipse cx="347.10" cy="529.61" rx="2.52" ry="3.48" transform="rotate(27 347.10 529.61)" class="t"/>
<ellipse cx="330.64" cy="520.32" rx="2.52" ry="3.48" transform="rotate(27 330.64 520.32)" class="t"/>
<ellipse cx="330.64" cy="494.58" rx="2.52" ry="3.48" transform="rotate(27 330.64 494.58)" class="t"/>
<ellipse cx="347.10" cy="467.10" rx="2.52" ry="3.48" transform="rotate(27 347.10 467.10)" class="t"/>
</g>
<g id="bolt" class="s">
<path class="d" d="M331.6,520.3 L377.1,545.5"/>
<path class="w" d="M376.71,545.48 L380.97,544.52 L384.84,547.81 L382.90,553.61 L378.06,552.26 L375.74,548.97 Z"/>
<path class="t" d="M378.64,545.48 L377.48,551.29 M380.58,545.10 L379.61,552.26"/>
<ellipse cx="386.39" cy="552.84" rx="3.87" ry="6.19" transform="rotate(15 386.39 552.84)" class="w"/>
<path class="w" style="stroke:none" d="M386.39,546.45 L390.64,547.42 L389.68,560.00 L384.84,559.03 Z"/>
<path d="M385.61,546.64 L389.10,547.42 M386.00,559.03 L389.10,560.00"/>
<ellipse cx="389.48" cy="553.61" rx="4.06" ry="6.39" transform="rotate(15 389.48 553.61)" class="w"/>
</g>
<path class="d" d="M437.3,532.9 L485.8,560"/>
<g id="bearing2" class="s">
<path class="w" d="M416.71,549.89 L415.09,548.79 L413.70,547.32 L412.56,545.52 L411.70,543.40 L411.13,541.02 L410.86,538.41 L410.89,535.61 L411.22,532.68 L411.84,529.66 L412.76,526.60 L413.94,523.56 L415.38,520.59 L417.04,517.74 L418.89,515.06 L420.92,512.59 L423.07,510.38 L425.32,508.47 L427.62,506.88 L429.94,505.65 L432.23,504.79 L434.47,504.32 L436.60,504.25 L438.59,504.58 L440.41,505.31 L448.99,509.81 L425.29,554.39 Z"/>
<ellipse cx="437.14" cy="532.10" rx="14.93" ry="25.25" transform="rotate(28 437.14 532.10)" class="w"/>
<ellipse cx="437.14" cy="532.10" rx="13.29" ry="22.73" transform="rotate(28 437.14 532.10)" style="stroke-width:0.7"/>
<ellipse cx="437.14" cy="532.10" rx="11.65" ry="20.20" transform="rotate(28 437.14 532.10)" style="stroke-width:1.5"/>
<ellipse cx="437.14" cy="532.10" rx="9.26" ry="16.66" transform="rotate(28 437.14 532.10)" style="stroke-width:1.2"/>
<ellipse cx="436.54" cy="531.80" rx="7.46" ry="13.89" transform="rotate(28 436.54 531.80)" style="stroke-width:0.8"/>
<path style="stroke-width:0.8" d="M440.51,518.43 L441.06,519.13 L441.51,519.97 L441.85,520.93 L442.08,522.01 L442.20,523.19 L442.19,524.45 L442.07,525.78 L441.84,527.17 L441.49,528.58 L441.03,530.02 L440.47,531.45 L439.81,532.87 L439.07,534.24 L438.24,535.56 L437.35,536.81 L436.41,537.97 L435.42,539.03 L434.40,539.98 L433.36,540.79 L432.32,541.47 L431.28,542.00 L430.26,542.38 L429.28,542.59 L428.35,542.65"/>
</g>
<g id="oring" class="s">
<ellipse cx="499.60" cy="568.80" rx="16.08" ry="25.05" transform="rotate(27 499.60 568.80)" class="w" style="stroke-width:1.1"/>
<ellipse cx="499.80" cy="568.90" rx="13.90" ry="22.70" transform="rotate(27 499.80 568.90)" style="stroke-width:0.9"/>
</g>
<g id="washers" class="s">
<path class="d" d="M88.2,578.8 L292.2,697.6"/>
<path class="d" d="M179.700,590 L179.700,612"/>
<path class="d" d="M179.700,618 L179.700,655"/>
<ellipse cx="85.30" cy="578.40" rx="11.50" ry="18.00" transform="rotate(27 85.30 578.40)" class="w"/>
<ellipse cx="85.60" cy="578.60" rx="7.59" ry="11.79" transform="rotate(27 85.60 578.60)" style="stroke-width:0.9"/>
<circle cx="91.08" cy="587.29" r="1.0" style="fill:#222;stroke:none"/>
<circle cx="79.89" cy="592.75" r="1.0" style="fill:#222;stroke:none"/>
<circle cx="74.11" cy="583.87" r="1.0" style="fill:#222;stroke:none"/>
<circle cx="79.52" cy="569.51" r="1.0" style="fill:#222;stroke:none"/>
<circle cx="90.71" cy="564.05" r="1.0" style="fill:#222;stroke:none"/>
<circle cx="96.49" cy="572.93" r="1.0" style="fill:#222;stroke:none"/>
<path class="d" d="M88.2,578.8 L100,585.7"/>
<ellipse cx="292.20" cy="697.60" rx="11.50" ry="18.00" transform="rotate(27 292.20 697.60)" class="w"/>
<ellipse cx="292.50" cy="697.80" rx="7.59" ry="11.79" transform="rotate(27 292.50 697.80)" style="stroke-width:0.9"/>
<circle cx="297.98" cy="706.49" r="1.0" style="fill:#222;stroke:none"/>
<circle cx="286.79" cy="711.95" r="1.0" style="fill:#222;stroke:none"/>
<circle cx="281.01" cy="703.07" r="1.0" style="fill:#222;stroke:none"/>
<circle cx="286.42" cy="688.71" r="1.0" style="fill:#222;stroke:none"/>
<circle cx="297.61" cy="683.25" r="1.0" style="fill:#222;stroke:none"/>
<circle cx="303.39" cy="692.13" r="1.0" style="fill:#222;stroke:none"/>
<ellipse cx="180.10" cy="565.20" rx="16.90" ry="10.00" transform="rotate(0 180.10 565.20)" class="w"/>
<ellipse cx="180.00" cy="562.70" rx="7.70" ry="4.30" transform="rotate(0 180.00 562.70)" style="stroke-width:0.9"/>
<path class="d" d="M179.5,546 L179.5,562"/>
<ellipse cx="179.90" cy="712.80" rx="16.90" ry="9.70" transform="rotate(0 179.90 712.80)" class="w"/>
<ellipse cx="180.00" cy="715.50" rx="7.70" ry="4.20" transform="rotate(0 180.00 715.50)" style="stroke-width:0.9"/>
</g>
<g id="sgearL" class="s" style="stroke-width:0.8">
<clipPath id="cpL"><path d="M139.7,584.4C141.7,584.4 143.8,585.1 145.3,586.0C146.9,586.9 148.3,588.7 148.9,589.8C149.4,591.0 148.1,592.0 148.5,593.1C149.0,594.1 151.0,594.9 151.5,596.0C151.9,597.0 151.5,598.6 151.0,599.5C150.5,600.5 148.7,600.6 148.5,601.6C148.4,602.6 150.1,604.2 149.8,605.3C149.6,606.4 148.0,607.0 147.3,608.1C146.6,609.1 146.3,610.9 145.6,611.8C145.0,612.7 143.7,612.6 143.4,613.4C143.1,614.2 144.1,616.0 143.7,616.6C143.3,617.3 141.7,616.4 140.8,617.3C139.9,618.1 139.1,620.4 138.1,621.8C137.1,623.1 136.3,624.4 134.8,625.3C133.4,626.3 131.1,627.5 129.2,627.6C127.3,627.7 125.3,626.9 123.5,625.8C121.8,624.7 120.0,622.8 118.7,621.0C117.4,619.1 116.5,616.7 116.0,614.5C115.4,612.4 115.3,610.3 115.5,608.1C115.7,605.8 116.2,603.1 117.1,600.8C118.0,598.5 119.5,596.0 121.1,594.0C122.7,592.0 124.8,590.1 126.8,588.7C128.8,587.3 131.1,586.2 133.2,585.5C135.4,584.8 137.7,584.3 139.7,584.4Z"/></clipPath>
<path class="w" d="M139.7,584.4C141.7,584.4 143.8,585.1 145.3,586.0C146.9,586.9 148.3,588.7 148.9,589.8C149.4,591.0 148.1,592.0 148.5,593.1C149.0,594.1 151.0,594.9 151.5,596.0C151.9,597.0 151.5,598.6 151.0,599.5C150.5,600.5 148.7,600.6 148.5,601.6C148.4,602.6 150.1,604.2 149.8,605.3C149.6,606.4 148.0,607.0 147.3,608.1C146.6,609.1 146.3,610.9 145.6,611.8C145.0,612.7 143.7,612.6 143.4,613.4C143.1,614.2 144.1,616.0 143.7,616.6C143.3,617.3 141.7,616.4 140.8,617.3C139.9,618.1 139.1,620.4 138.1,621.8C137.1,623.1 136.3,624.4 134.8,625.3C133.4,626.3 131.1,627.5 129.2,627.6C127.3,627.7 125.3,626.9 123.5,625.8C121.8,624.7 120.0,622.8 118.7,621.0C117.4,619.1 116.5,616.7 116.0,614.5C115.4,612.4 115.3,610.3 115.5,608.1C115.7,605.8 116.2,603.1 117.1,600.8C118.0,598.5 119.5,596.0 121.1,594.0C122.7,592.0 124.8,590.1 126.8,588.7C128.8,587.3 131.1,586.2 133.2,585.5C135.4,584.8 137.7,584.3 139.7,584.4Z"/>
<path class="t" clip-path="url(#cpL)" style="stroke-width:0.7" d="M143.98,611.20 L148.65,613.27 M141.96,614.26 L144.32,619.78 M139.25,616.41 L138.49,624.35 M136.26,617.35 L132.01,626.32 M133.41,616.94 L125.82,625.39 M131.12,615.23 L120.83,621.70 M129.72,612.48 L117.77,615.80 M129.42,609.09 L117.07,608.53 M130.26,605.55 L118.84,600.96 M132.13,602.37 L122.83,594.19 M134.74,600.02 L128.44,589.20 M137.71,598.85 L134.87,586.73 M140.62,599.01 L141.18,587.13 M143.04,600.50 L146.45,590.34 M144.62,603.08 L149.91,595.90 M145.13,606.39 L151.05,603.00 M144.49,609.95 L149.72,610.60"/>
<ellipse cx="137.26" cy="608.06" rx="6.77" ry="9.03" transform="rotate(25 137.26 608.06)" class="w" style="stroke-width:1.2"/>
<path style="stroke-width:0.55;stroke:#444" d="M130.15,601.77 L137.83,599.84 M129.70,603.23 L139.59,601.29 M129.65,604.68 L140.95,602.74 M129.84,606.13 L142.06,604.19 M130.24,607.58 L142.97,605.65 M130.81,609.03 L143.71,607.10 M131.54,610.48 L144.28,608.55 M132.46,611.94 L144.67,610.00 M133.57,613.39 L144.87,611.45 M134.93,614.84 L144.81,612.90 M136.68,616.29 L144.36,614.35"/>
</g>
<g id="pinT" class="s" style="stroke-width:0.8">
<path class="w" d="M160.6,599.2C159.9,600.6 159.4,601.5 159.5,602.7C159.7,604.0 160.6,605.7 161.5,606.5C162.3,607.2 163.6,606.5 164.4,607.3C165.1,608.0 165.0,609.9 166.0,610.8C167.0,611.7 169.1,612.3 170.3,612.4C171.6,612.6 172.6,611.4 173.5,611.8C174.5,612.1 174.9,613.9 176.0,614.5C177.0,615.2 178.7,615.6 180.0,615.6C181.3,615.6 183.0,615.2 184.0,614.5C185.1,613.9 185.4,612.1 186.5,611.8C187.5,611.4 188.8,612.6 190.2,612.4C191.5,612.2 193.5,611.4 194.5,610.5C195.5,609.6 195.3,607.7 196.1,606.9C196.9,606.2 198.5,606.7 199.4,606.0C200.2,605.2 200.9,603.6 201.0,602.4C201.0,601.2 200.5,600.2 199.8,598.9C199.2,597.5 198.8,595.8 196.9,594.4C195.1,592.9 191.7,591.2 188.9,590.3C186.0,589.5 183.0,589.2 180.0,589.2C177.0,589.2 173.8,589.5 171.1,590.3C168.4,591.1 165.6,592.6 163.9,594.0C162.1,595.5 161.4,597.7 160.6,599.2Z"/>
<ellipse cx="180.00" cy="596.77" rx="15.32" ry="7.74" transform="rotate(0 180.00 596.77)" class="w"/>
<ellipse cx="180.00" cy="595.97" rx="7.26" ry="4.03" transform="rotate(0 180.00 595.97)"/>
<path class="t" d="M164.35,607.26 L165.00,603.23 M173.55,611.77 L172.74,604.03 M186.45,611.77 L187.26,604.35 M196.13,606.94 L195.32,602.74 M180.00,615.65 L180.00,604.84"/>
</g>
<g id="pinB" class="s" style="stroke-width:0.8">
<path class="w" d="M158.9,667.1C158.7,668.5 159.5,670.4 160.0,671.6C160.5,672.8 161.1,673.6 162.1,674.4C163.1,675.1 164.6,675.2 165.8,676.0C167.0,676.8 168.0,678.6 169.4,679.2C170.8,679.8 172.4,679.3 174.2,679.7C175.9,680.1 178.0,681.6 179.8,681.6C181.7,681.6 183.9,680.1 185.5,679.7C187.1,679.3 188.1,679.8 189.5,679.2C190.9,678.6 192.5,676.9 193.9,676.0C195.2,675.0 196.6,674.4 197.6,673.5C198.5,672.7 199.1,672.2 199.7,671.1C200.2,670.1 201.0,668.4 200.8,667.1C200.6,665.8 199.2,664.1 198.4,663.1C197.6,662.0 197.2,661.3 196.0,660.6C194.8,660.0 192.6,660.0 191.1,659.4C189.7,658.7 188.4,657.0 187.1,656.6C185.8,656.2 184.5,657.5 183.1,657.1C181.7,656.7 179.9,654.2 178.7,654.2C177.5,654.2 176.7,656.6 175.8,657.1C174.9,657.6 174.5,656.8 173.4,657.1C172.3,657.4 170.4,658.7 169.0,659.0C167.7,659.4 166.6,658.4 165.3,659.0C164.0,659.7 162.4,661.7 161.3,663.1C160.2,664.4 159.1,665.7 158.9,667.1Z"/>
<ellipse cx="179.84" cy="662.26" rx="6.45" ry="4.03" transform="rotate(0 179.84 662.26)" class="w"/>
<path class="t" d="M174.19,664.35 L163.71,675.16 M176.61,665.81 L170.16,679.19 M179.84,666.45 L179.84,681.29 M183.06,665.81 L189.52,678.71 M185.81,664.19 L196.77,673.23 M173.71,661.45 L161.29,667.42 M186.13,661.45 L199.19,667.42"/>
</g>
<g id="sgearR" class="s" style="stroke-width:0.8">
<path class="w" d="M242.7,641.3C244.1,641.8 245.6,642.6 246.8,644.5C248.0,646.4 250.0,648.3 250.0,652.6C250.0,656.9 248.9,665.2 246.8,670.3C244.6,675.4 240.6,680.9 237.1,683.2C233.6,685.6 228.2,684.7 225.8,684.5C223.4,684.3 223.8,682.2 222.6,681.9C221.4,681.7 219.4,683.5 218.5,682.9C217.7,682.3 218.5,679.2 217.7,678.1C217.0,676.9 214.2,677.2 213.9,676.0C213.5,674.7 215.6,672.3 215.5,670.6C215.4,669.0 213.1,667.7 213.2,666.3C213.4,664.9 216.1,663.8 216.5,662.3C216.8,660.7 214.7,658.4 215.2,657.1C215.6,655.8 218.4,655.5 219.0,654.2C219.7,652.9 218.3,650.4 219.0,649.4C219.8,648.3 222.4,649.0 223.4,648.1C224.4,647.1 224.0,644.0 225.0,643.5C226.0,643.1 228.1,645.6 229.4,645.2C230.6,644.7 231.2,641.1 232.3,641.0C233.3,640.8 234.5,644.1 235.5,644.2C236.5,644.2 237.2,641.8 238.4,641.3C239.6,640.8 241.3,640.8 242.7,641.3Z"/>
<ellipse cx="235.48" cy="663.55" rx="12.10" ry="20.97" transform="rotate(25 235.48 663.55)" class="w"/>
<ellipse cx="236.77" cy="664.35" rx="9.03" ry="15.48" transform="rotate(25 236.77 664.35)" style="stroke-width:1.2"/>
<ellipse cx="237.90" cy="664.68" rx="6.77" ry="11.94" transform="rotate(25 237.90 664.68)" class="w" style="stroke-width:1.2"/>
<path style="stroke-width:0.5;stroke:#555" d="M233.06,660.71 L232.10,673.87 M234.52,657.86 L233.55,675.41 M235.97,655.93 L235.00,676.04 M237.42,654.58 L236.45,676.08 M238.87,653.71 L237.90,675.65 M240.32,653.28 L239.35,674.77 M241.77,653.32 L240.81,673.42 M243.23,653.94 L242.26,671.49 M244.68,655.48 L243.71,668.65"/>
</g>
<path class="d" d="M146,612.4 L197,642.1"/>
<path class="d" d="M247,671.3 L281,691"/>
<g id="kit" class="s">
<ellipse cx="348.30" cy="702.20" rx="11.50" ry="18.00" transform="rotate(27 348.30 702.20)" class="w"/>
<ellipse cx="348.60" cy="702.40" rx="7.59" ry="11.79" transform="rotate(27 348.60 702.40)" style="stroke-width:0.9"/>
<circle cx="354.08" cy="711.09" r="1.0" style="fill:#222;stroke:none"/>
<circle cx="342.89" cy="716.55" r="1.0" style="fill:#222;stroke:none"/>
<circle cx="337.11" cy="707.67" r="1.0" style="fill:#222;stroke:none"/>
<circle cx="342.52" cy="693.31" r="1.0" style="fill:#222;stroke:none"/>
<circle cx="353.71" cy="687.85" r="1.0" style="fill:#222;stroke:none"/>
<circle cx="359.49" cy="696.73" r="1.0" style="fill:#222;stroke:none"/>
<ellipse cx="374.00" cy="717.00" rx="11.50" ry="18.00" transform="rotate(27 374.00 717.00)" class="w"/>
<ellipse cx="374.30" cy="717.20" rx="7.59" ry="11.79" transform="rotate(27 374.30 717.20)" style="stroke-width:0.9"/>
<circle cx="379.78" cy="725.89" r="1.0" style="fill:#222;stroke:none"/>
<circle cx="368.59" cy="731.35" r="1.0" style="fill:#222;stroke:none"/>
<circle cx="362.81" cy="722.47" r="1.0" style="fill:#222;stroke:none"/>
<circle cx="368.22" cy="708.11" r="1.0" style="fill:#222;stroke:none"/>
<circle cx="379.41" cy="702.65" r="1.0" style="fill:#222;stroke:none"/>
<circle cx="385.19" cy="711.53" r="1.0" style="fill:#222;stroke:none"/>
<ellipse cx="400.80" cy="733.40" rx="11.50" ry="18.00" transform="rotate(27 400.80 733.40)" class="w"/>
<ellipse cx="401.10" cy="733.60" rx="7.59" ry="11.79" transform="rotate(27 401.10 733.60)" style="stroke-width:0.9"/>
<circle cx="406.58" cy="742.29" r="1.0" style="fill:#222;stroke:none"/>
<circle cx="395.39" cy="747.75" r="1.0" style="fill:#222;stroke:none"/>
<circle cx="389.61" cy="738.87" r="1.0" style="fill:#222;stroke:none"/>
<circle cx="395.02" cy="724.51" r="1.0" style="fill:#222;stroke:none"/>
<circle cx="406.21" cy="719.05" r="1.0" style="fill:#222;stroke:none"/>
<circle cx="411.99" cy="727.93" r="1.0" style="fill:#222;stroke:none"/>
<ellipse cx="426.00" cy="749.30" rx="11.50" ry="18.00" transform="rotate(27 426.00 749.30)" class="w"/>
<ellipse cx="426.30" cy="749.50" rx="7.59" ry="11.79" transform="rotate(27 426.30 749.50)" style="stroke-width:0.9"/>
<circle cx="431.78" cy="758.19" r="1.0" style="fill:#222;stroke:none"/>
<circle cx="420.59" cy="763.65" r="1.0" style="fill:#222;stroke:none"/>
<circle cx="414.81" cy="754.77" r="1.0" style="fill:#222;stroke:none"/>
<circle cx="420.22" cy="740.41" r="1.0" style="fill:#222;stroke:none"/>
<circle cx="431.41" cy="734.95" r="1.0" style="fill:#222;stroke:none"/>
<circle cx="437.19" cy="743.83" r="1.0" style="fill:#222;stroke:none"/>
</g>
<path class="b" d="M68.06,785.97 L68.06,797.6 L88.06,797.6 L82.9,795.4 L93.87,788.55 L84.19,783.39 L73.87,788.94 Z"/>
<g id="leaders2" class="s" style="stroke:#444;stroke-linecap:butt">
<path d="M104,291.6 V311.8"/>
<path d="M146.5,313.4 V333.5"/>
<path d="M228.6,305.6 H248.4"/>
<path d="M304.5,404.2 V424.4"/>
<path d="M358.5,413.4 V433.2"/>
<path d="M227.7,463 V483.7"/>
<path d="M91.5,540.8 V561.8"/>
<path d="M197,565.2 H217.7"/>
<path d="M263,636.5 H275.5"/>
<path d="M142.3,711.7 H163"/>
<path d="M285.6,715 V735.3"/>
<path d="M383.5,558.9 V579.4"/>
<path d="M428.1,555.6 V575.8"/>
<path d="M505.5,525.3 V545.8"/>
<path d="M388.4,633.5 V646.5"/>
<path d="M355.1,665 V685.6"/>
<path d="M368.5,734 V755.2"/>
<path d="M406.7,696.2 V716.6"/>
<path d="M420.5,766.9 V782.4"/>
<path class="d" d="M144.5,362.6 L177.4,381"/>
<path class="d" d="M437.3,532.9 L485.8,560"/>
</g>


</svg>
</body>
</html>
